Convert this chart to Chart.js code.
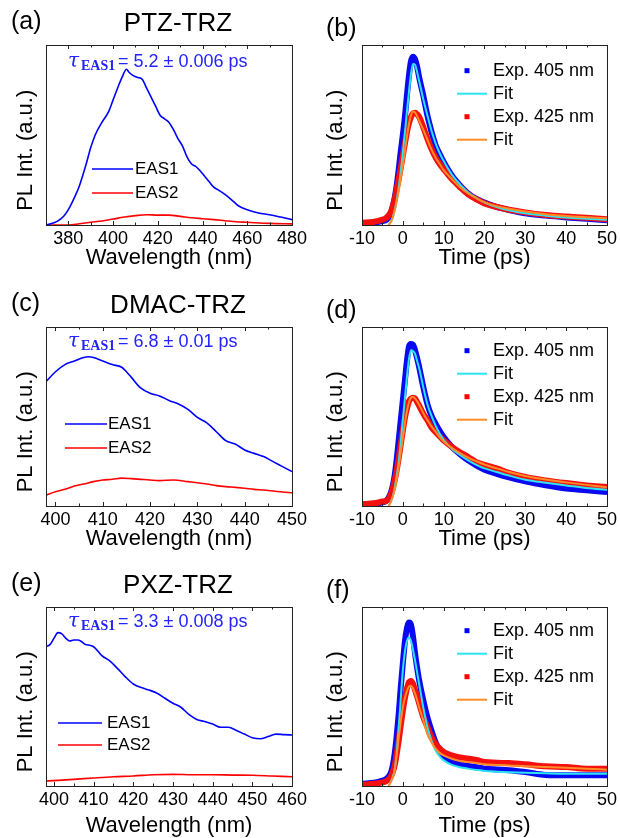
<!DOCTYPE html>
<html>
<head>
<meta charset="utf-8">
<script src="https://cdn.jsdelivr.net/npm/chart.js@4.4.0/dist/chart.umd.min.js"></script>
<style>
  body { margin: 0; background: #fff; width: 620px; height: 838px; overflow: hidden; position: relative; }
  canvas { position: absolute; }
</style>
</head>
<body>
<canvas id="pa" width="310" height="280" style="left:0;top:0"></canvas>
<canvas id="pb" width="310" height="280" style="left:310px;top:0"></canvas>
<canvas id="pc" width="310" height="280" style="left:0;top:282px"></canvas>
<canvas id="pd" width="310" height="280" style="left:310px;top:282px"></canvas>
<canvas id="pe" width="310" height="280" style="left:0;top:562px"></canvas>
<canvas id="pf" width="310" height="280" style="left:310px;top:562px"></canvas>
<script>
// ---- spectra (EAS), intensity normalised to the frame height ----
var wlA1 = [370,375,378,380,383,385,388,390,392,395,398,400,402,404,406,407,409,411,413,415,417,419,421,423,425,427,429,431,433,435,437,439,441,443,445,447,450,453,456,460,465,470,475,480];
var eas1A = [0,.02,.05,.085,.16,.22,.34,.43,.50,.57,.63,.695,.76,.82,.865,.85,.83,.82,.81,.76,.71,.66,.61,.59,.57,.53,.48,.44,.38,.34,.325,.30,.27,.24,.21,.195,.17,.14,.107,.085,.067,.057,.044,.03];
var wlA2 = [370,380,385,390,395,400,405,410,415,420,425,430,435,440,445,450,455,460,470,480];
var eas2A = [0,0,.007,.015,.022,.033,.044,.052,.057,.055,.055,.048,.04,.035,.03,.024,.018,.015,.009,.006];

var wlC1 = [398,400,402,404,406,407,408,410,412,414,415,416,418,420,422,424,426,428,430,432,434,436,438,440,442,444,446,448,450];
var eas1C = [.695,.75,.79,.81,.83,.834,.83,.81,.79,.775,.75,.72,.66,.63,.615,.59,.57,.54,.495,.465,.415,.365,.346,.313,.294,.276,.248,.22,.192];
var wlC2 = [398,400,402,404,406,408,410,412,414,416,418,420,422,425,428,430,432,434,436,438,440,442,444,446,448,450];
var eas2C = [.061,.08,.093,.112,.123,.136,.145,.149,.156,.153,.149,.145,.142,.145,.136,.13,.123,.114,.108,.104,.099,.093,.089,.084,.078,.074];

var wlE1 = [398,399,400,401,402,403,404,405,406,407,408,409,410,412,414,416,418,420,422,424,426,428,430,432,434,436,438,440,442,444,446,448,450,452,454,456,458,460];
var eas1E = [.78,.79,.825,.857,.85,.825,.81,.816,.816,.806,.79,.786,.778,.73,.70,.657,.61,.57,.55,.536,.518,.49,.462,.44,.40,.372,.36,.346,.328,.328,.31,.29,.27,.264,.276,.29,.287,.285];
var wlE2 = [398,400,405,410,415,420,425,430,435,440,445,450,455,460];
var eas2E = [.028,.03,.037,.045,.052,.056,.063,.065,.063,.063,.061,.06,.056,.052];

var wlTicksA = [380,400,420,440,460,480];
var wlTicksC = [400,410,420,430,440,450];
var wlTicksE = [400,410,420,430,440,450,460];

// ---- kinetics ----
var tExp = [-10,-7,-5,-4,-3,-2.5,-2,-1.5,-1,-0.5,0,0.5,1,1.5,2,2.5,3,3.5,4,5,6,7,8,9,10,12,14,16,18,20,23,26,30,35,40,45,50];
var tFit = [-3.5,-3,-2.5,-2,-1.5,-1,-0.5,0,0.5,1,1.5,2,2.5,3,3.5,4,5,6,7,8,9,10,12,14,16,18,20,23,26,30,35,40,45,50];
var timeTicks = [-10,0,10,20,30,40,50];

var exp405B = [.010,.014,.022,.030,.060,.10,.15,.22,.31,.41,.50,.60,.72,.83,.91,.935,.92,.88,.82,.72,.61,.52,.445,.395,.35,.275,.22,.175,.145,.125,.10,.083,.065,.052,.042,.034,.027];
var fit405B = [0,.015,.04,.08,.14,.21,.30,.40,.51,.63,.74,.84,.895,.89,.85,.80,.70,.61,.525,.455,.40,.355,.28,.225,.18,.15,.125,.10,.082,.065,.052,.042,.035,.029];
var exp425B = [.013,.018,.030,.040,.070,.10,.143,.20,.255,.32,.385,.45,.515,.565,.60,.62,.624,.615,.60,.544,.48,.423,.376,.34,.31,.255,.21,.17,.143,.12,.10,.085,.07,.056,.047,.04,.032];
var fit425B = [0,.015,.04,.08,.13,.19,.26,.33,.41,.49,.56,.61,.63,.625,.605,.58,.53,.475,.42,.375,.34,.305,.255,.21,.175,.148,.126,.105,.09,.075,.06,.05,.043,.037];

var exp405D = [.008,.012,.02,.03,.07,.11,.17,.26,.37,.48,.59,.70,.81,.89,.905,.90,.87,.825,.776,.665,.57,.505,.46,.42,.385,.33,.29,.255,.227,.203,.18,.16,.138,.115,.097,.088,.078];
var fit405D = [0,.02,.05,.10,.17,.25,.36,.48,.60,.72,.82,.87,.865,.85,.81,.77,.665,.57,.505,.45,.405,.37,.32,.285,.255,.23,.21,.19,.17,.147,.13,.115,.10,.09];
var exp425D = [.01,.015,.025,.03,.06,.095,.143,.20,.27,.345,.42,.49,.544,.585,.60,.605,.60,.58,.56,.516,.48,.44,.413,.39,.367,.33,.30,.274,.245,.23,.21,.185,.162,.143,.128,.115,.106];
var fit425D = [0,.02,.05,.09,.15,.22,.30,.38,.46,.53,.58,.605,.61,.60,.585,.565,.52,.48,.445,.415,.385,.36,.325,.295,.27,.25,.232,.21,.19,.168,.148,.132,.118,.105];

var exp405F = [.013,.018,.03,.04,.07,.11,.18,.28,.405,.553,.684,.805,.88,.913,.90,.833,.74,.66,.59,.48,.385,.31,.245,.20,.162,.134,.12,.112,.105,.097,.092,.088,.078,.062,.06,.06,.06];
var fit405F = [0,.02,.05,.09,.19,.33,.49,.646,.75,.81,.83,.81,.76,.70,.635,.57,.44,.33,.255,.20,.165,.143,.118,.105,.097,.09,.084,.08,.077,.074,.071,.069,.069,.069];
var exp425F = [.008,.012,.02,.028,.05,.075,.115,.18,.255,.34,.42,.49,.544,.58,.587,.57,.534,.50,.46,.385,.33,.274,.236,.21,.19,.171,.16,.153,.145,.134,.13,.128,.121,.11,.106,.097,.097];
var fit425F = [0,.02,.045,.09,.17,.27,.36,.44,.49,.53,.555,.56,.545,.516,.48,.44,.367,.29,.245,.21,.185,.171,.152,.14,.134,.128,.121,.118,.115,.11,.106,.102,.097,.091];

var FONT = '"Liberation Sans", Arial, sans-serif';
var BLUE = '#0000ff', RED = '#ff0000', CYAN = '#2ee3f2', ORANGE = '#ff8c26', TAU = '#2323ff';

function pts(xs, ys) {
  return xs.map(function (x, i) { return { x: x, y: ys[i] }; });
}

// frame, inward ticks, panel labels, annotation and legend
var deco = {
  id: 'deco',
  afterDraw: function (chart, args, o) {
    var ctx = chart.ctx, a = chart.chartArea, x = chart.scales.x;
    ctx.save();
    ctx.strokeStyle = '#222';
    ctx.lineWidth = 1;
    ctx.strokeRect(a.left + 0.5, a.top + 0.5, a.right - a.left, a.bottom - a.top);

    var major = x.ticks.map(function (t) { return t.value; });
    var step = major[1] - major[0];
    var minor = [];
    for (var v = major[0] - step / 2; v <= x.max; v += step) {
      if (v >= x.min) minor.push(v);
    }
    function tick(val, len) {
      var px = Math.round(x.getPixelForValue(val)) + 0.5;
      ctx.beginPath();
      ctx.moveTo(px, a.bottom); ctx.lineTo(px, a.bottom - len);
      ctx.moveTo(px, a.top); ctx.lineTo(px, a.top + len);
      ctx.stroke();
    }
    major.forEach(function (val) { tick(val, 4); });
    minor.forEach(function (val) { tick(val, 2.5); });

    ctx.fillStyle = '#000';
    ctx.textBaseline = 'middle';
    ctx.textAlign = 'left';
    ctx.font = '25px ' + FONT;
    ctx.fillText(o.letter, o.letterX, o.letterY);
    if (o.title) {
      ctx.textAlign = 'center';
      ctx.font = '26px ' + FONT;
      ctx.fillText(o.title, o.titleX, o.titleY);
      ctx.textAlign = 'left';
    }

    if (o.tau) {
      var by = a.top + o.tauY;
      ctx.textBaseline = 'alphabetic';
      ctx.fillStyle = TAU;
      ctx.font = 'italic 20px "DejaVu Serif", serif';
      ctx.fillText('\u03c4', 68, by);
      ctx.font = 'bold 14px "Liberation Serif", serif';
      ctx.fillText('EAS1', 81, by + 3);
      ctx.font = '18px ' + FONT;
      ctx.fillText(o.tau, 118, by);
      ctx.textBaseline = 'middle';
    }

    var L = o.legend;
    ctx.fillStyle = '#000';
    L.items.forEach(function (it, i) {
      var y = a.top + L.y0 + i * L.dy;
      if (it.marker) {
        ctx.fillStyle = it.color;
        ctx.fillRect(a.left + L.mx - 2.5, y - 2.5, 5, 5);
      } else {
        ctx.strokeStyle = it.color;
        ctx.lineWidth = it.width;
        ctx.beginPath();
        ctx.moveTo(a.left + L.lx1, y); ctx.lineTo(a.left + L.lx2, y);
        ctx.stroke();
      }
      ctx.fillStyle = '#000';
      ctx.font = L.size + 'px ' + FONT;
      ctx.fillText(it.text, a.left + L.tx, y);
    });
    ctx.restore();
  }
};

function options(p) {
  return {
    responsive: false,
    animation: false,
    events: [],
    layout: { padding: { left: 0, top: 45, right: p.padRight, bottom: 0 } },
    plugins: { legend: { display: false }, tooltip: { enabled: false }, deco: p.deco },
    scales: {
      x: {
        type: 'linear', min: p.xMin, max: p.xMax,
        afterBuildTicks: function (s) { s.ticks = p.xTicks.map(function (v) { return { value: v }; }); },
        afterFit: function (s) { s.height = p.xHeight; },
        grid: { display: false, drawTicks: false },
        border: { display: false },
        ticks: { color: '#000', padding: 3, maxRotation: 0, autoSkip: false, font: { family: FONT, size: 18 } },
        title: { display: true, text: p.xTitle, color: '#000', font: { family: FONT, size: 22 }, padding: { top: 0, bottom: p.xTitlePad } }
      },
      y: {
        min: 0, max: 1,
        afterFit: function (s) { s.width = p.yWidth; },
        ticks: { display: false },
        grid: { display: false, drawTicks: false },
        border: { display: false },
        title: { display: true, text: 'PL Int. (a.u.)' + '\u00a0\u00a0\u00a0\u00a0\u00a0', color: '#000', font: { family: FONT, size: 22 }, padding: { top: 12.8, bottom: 0 } }
      }
    }
  };
}

function spectrum(id, s) {
  new Chart(document.getElementById(id), {
    type: 'line',
    data: {
      datasets: [
        { label: 'EAS1', data: pts(s.wl1, s.eas1), borderColor: BLUE, borderWidth: 1.6, pointRadius: 0, cubicInterpolationMode: 'monotone' },
        { label: 'EAS2', data: pts(s.wl2, s.eas2), borderColor: RED, borderWidth: 1.6, pointRadius: 0, cubicInterpolationMode: 'monotone' }
      ]
    },
    options: options({
      padRight: 17, yWidth: 46, xHeight: s.xHeight, xTitlePad: s.xTitlePad,
      xMin: s.xMin, xMax: s.xMax, xTicks: s.ticks, xTitle: 'Wavelength (nm)',
      deco: {
        letter: s.letter, letterX: 11, letterY: 22, title: s.title, titleX: 178, titleY: 23.5,
        tau: s.tau, tauY: s.tauY,
        legend: { y0: s.legY, dy: s.legDy, lx1: s.lx1, lx2: s.lx2, tx: s.tx, size: 17,
          items: [{ text: 'EAS1', color: BLUE, width: 1.6 }, { text: 'EAS2', color: RED, width: 1.6 }] }
      }
    }),
    plugins: [deco]
  });
}

function kinetics(id, k) {
  var expStyle = function (c) {
    return { borderColor: c, backgroundColor: c, borderWidth: 6, pointStyle: 'rect', pointRadius: 3, pointBorderWidth: 0, cubicInterpolationMode: 'monotone' };
  };
  var fitStyle = function (c) {
    return { borderColor: c, borderWidth: 2, pointRadius: 0, cubicInterpolationMode: 'monotone' };
  };
  new Chart(document.getElementById(id), {
    type: 'line',
    data: {
      datasets: [
        Object.assign({ label: 'Fit 425', data: pts(tFit, k.f425), order: 0 }, fitStyle(ORANGE)),
        Object.assign({ label: 'Fit 405', data: pts(tFit, k.f405), order: 1 }, fitStyle(CYAN)),
        Object.assign({ label: 'Exp. 425 nm', data: pts(tExp, k.e425), order: 2 }, expStyle('#f51010')),
        Object.assign({ label: 'Exp. 405 nm', data: pts(tExp, k.e405), order: 3 }, expStyle('#0a0af0'))
      ]
    },
    options: options({
      padRight: 12, yWidth: 52, xHeight: k.xHeight, xTitlePad: k.xTitlePad,
      xMin: -10, xMax: 50, xTicks: timeTicks, xTitle: 'Time (ps)',
      deco: {
        letter: k.letter, letterX: 16, letterY: 29,
        legend: { y0: k.legY, dy: 23, mx: 105, lx1: 95, lx2: 125, tx: 131, size: 18,
          items: [
            { text: 'Exp. 405 nm', color: BLUE, marker: true },
            { text: 'Fit', color: CYAN, width: 2 },
            { text: 'Exp. 425 nm', color: RED, marker: true },
            { text: 'Fit', color: ORANGE, width: 2 }
          ] }
      }
    }),
    plugins: [deco]
  });
}

spectrum('pa', { letter: '(a)', title: 'PTZ-TRZ', wl1: wlA1, eas1: eas1A, wl2: wlA2, eas2: eas2A,
  xMin: 370, xMax: 480, ticks: wlTicksA, xHeight: 55, xTitlePad: 8.8,
  tau: '= 5.2 \u00b1 0.006 ps', tauY: 22, legY: 124, legDy: 24, lx1: 46, lx2: 87, tx: 89 });
spectrum('pc', { letter: '(c)', title: 'DMAC-TRZ', wl1: wlC1, eas1: eas1C, wl2: wlC2, eas2: eas2C,
  xMin: 398, xMax: 450, ticks: wlTicksC, xHeight: 56, xTitlePad: 9.8,
  tau: '= 6.8 \u00b1 0.01 ps', tauY: 20, legY: 97, legDy: 24, lx1: 19, lx2: 61, tx: 62 });
spectrum('pe', { letter: '(e)', title: 'PXZ-TRZ', wl1: wlE1, eas1: eas1E, wl2: wlE2, eas2: eas2E,
  xMin: 398, xMax: 460, ticks: wlTicksE, xHeight: 56, xTitlePad: 2.8,
  tau: '= 3.3 \u00b1 0.008 ps', tauY: 20, legY: 116, legDy: 22, lx1: 12, lx2: 56, tx: 61 });

kinetics('pb', { letter: '(b)', e405: exp405B, f405: fit405B, e425: exp425B, f425: fit425B, xHeight: 55, xTitlePad: 8.8, legY: 25.7 });
kinetics('pd', { letter: '(d)', e405: exp405D, f405: fit405D, e425: exp425D, f425: fit425D, xHeight: 56, xTitlePad: 9.8, legY: 23.7 });
kinetics('pf', { letter: '(f)', e405: exp405F, f405: fit405F, e425: exp425F, f425: fit425F, xHeight: 56, xTitlePad: 2.8, legY: 23.7 });
</script>
</body>
</html>
